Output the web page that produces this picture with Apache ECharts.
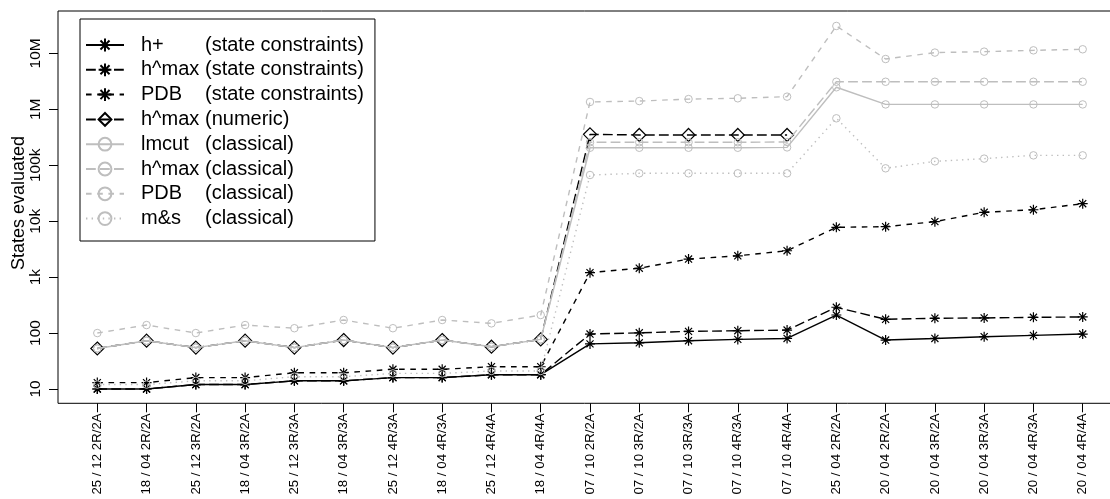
<!DOCTYPE html>
<html><head><meta charset="utf-8">
<script src="https://cdn.jsdelivr.net/npm/echarts@6/dist/echarts.min.js"></script>
<style>html,body{margin:0;padding:0;background:#fff}#c{width:1110px;height:499px}</style>
</head><body><div id="c"></div>
<script>
const categories = [
  "25 / 12 2R/2A","18 / 04 2R/2A","25 / 12 3R/2A","18 / 04 3R/2A","25 / 12 3R/3A",
  "18 / 04 3R/3A","25 / 12 4R/3A","18 / 04 4R/3A","25 / 12 4R/4A","18 / 04 4R/4A",
  "07 / 10 2R/2A","07 / 10 3R/2A","07 / 10 3R/3A","07 / 10 4R/3A","07 / 10 4R/4A",
  "25 / 04 2R/2A","20 / 04 2R/2A","20 / 04 3R/2A","20 / 04 3R/3A","20 / 04 4R/3A","20 / 04 4R/4A"
];
const yTickValues = [10, 100, 1000, 10000, 100000, 1000000, 10000000];
const yTickLabels = ["10", "100", "1k", "10k", "100k", "1M", "10M"];
const yAxisTitle = "States evaluated";

const hPlusState   = [10, 10, 12, 12, 14, 14, 16, 16, 18, 18, 64, 67, 73, 77, 80, 210, 75, 80, 86, 91, 96];
const hmaxState    = [10, 10, 12, 12, 14, 14, 16, 16, 18, 18, 96, 101, 107, 110, 113, 289, 176, 184, 186, 191, 194];
const pdbState     = [13, 13, 16, 16, 19.5, 19.5, 22.5, 22.5, 25, 25, 1200, 1440, 2100, 2400, 2960, 7760, 7960, 9800, 14400, 16000, 20500];
const hmaxNumeric  = [53, 73, 55, 73, 55, 75, 55, 75, 57, 77, 356000, 347000, 347000, 347000, 347000, null, null, null, null, null, null];
const lmcutClass   = [53, 73, 55, 73, 55, 75, 55, 75, 57, 77, 205000, 205000, 205000, 205000, 208000, 2470000, 1220000, 1220000, 1220000, 1220000, 1220000];
const hmaxClass    = [53, 73, 55, 73, 55, 75, 55, 75, 57, 77, 257000, 257000, 257000, 257000, 260000, 3100000, 3100000, 3100000, 3100000, 3100000, 3100000];
const pdbClass     = [100, 139, 100, 139, 122, 171, 122, 171, 149, 210, 1350000, 1400000, 1520000, 1570000, 1680000, 30800000, 7900000, 10300000, 10700000, 11300000, 11800000];
const msClass      = [12, 12, 14, 14, 16.6, 16.6, 19, 19, 21, 21, 66800, 71600, 71600, 71600, 71600, 689000, 88000, 117000, 131000, 150000, 150000];

const seriesNames = [
  ["h+", "(state constraints)"],
  ["h^max", "(state constraints)"],
  ["PDB", "(state constraints)"],
  ["h^max", "(numeric)"],
  ["lmcut", "(classical)"],
  ["h^max", "(classical)"],
  ["PDB", "(classical)"],
  ["m&s", "(classical)"]
];

const FONT = '"Liberation Sans", Arial, Helvetica, sans-serif';
const BLACK = '#000000';
const GRAY = '#bebebe';
const STAR = 'path://M0,-5L0,5M-5,0L5,0M-3.54,-3.54L3.54,3.54M-3.54,3.54L3.54,-3.54';
const LONG = [9.8, 4.2], DASH = [5.6, 5.6], DOT = [1.4, 4.2];

function fullName(i) { return seriesNames[i][0] + ' ' + seriesNames[i][1]; }

function mk(i, data, color, lineType, symbol, size, bw) {
  return {
    name: fullName(i), type: 'line', xAxisIndex: 1, yAxisIndex: 1, data: data,
    clip: false, symbol: symbol, symbolSize: size, symbolKeepAspect: true,
    showAllSymbol: true, connectNulls: false, z: 2 + i * 0.01,
    lineStyle: { color: color, width: 1.4, type: lineType, cap: 'butt' },
    itemStyle: { color: 'rgba(0,0,0,0)', borderColor: color, borderWidth: bw },
    emphasis: { disabled: true },
    animation: false
  };
}

const chart = echarts.init(document.getElementById('c'), null, { renderer: 'canvas' });
chart.setOption({
  backgroundColor: '#ffffff',
  animation: false,
  grid: [
    { left: 58, top: 11, width: 1064, height: 392.3, show: true, borderColor: '#000', borderWidth: 1, backgroundColor: 'transparent', containLabel: false, outerBoundsMode: 'none' },
    { left: 97.3, right: 27.3, top: 53.3, bottom: 110, containLabel: false, outerBoundsMode: 'none' }
  ],
  xAxis: [
    { gridIndex: 0, type: 'value', show: false, min: 0, max: 1 },
    {
      gridIndex: 1, type: 'category', data: categories, boundaryGap: false, offset: 14.3,
      axisLine: { show: false },
      axisTick: { show: true, length: 9, interval: 0, lineStyle: { color: '#000', width: 1 } },
      axisLabel: { interval: 0, rotate: 90, margin: 10, fontSize: 13.3, fontFamily: FONT, color: '#000' },
      splitLine: { show: false }
    }
  ],
  yAxis: [
    { gridIndex: 0, type: 'value', show: false, min: 0, max: 1 },
    {
      gridIndex: 1, type: 'log', logBase: 10, min: 10, max: 10000000, offset: 39.3,
      axisLine: { show: false },
      axisTick: { show: true, length: 9, lineStyle: { color: '#000', width: 1 } },
      axisLabel: {
        rotate: 90, margin: 14, fontSize: 15.5, fontFamily: FONT, color: '#000',
        formatter: function (v) {
          for (let k = 0; k < yTickValues.length; k++) {
            if (Math.abs(Math.log10(v) - Math.log10(yTickValues[k])) < 1e-6) return yTickLabels[k];
          }
          return '';
        }
      },
      splitLine: { show: false }, minorTick: { show: false }
    }
  ],
  legend: {
    orient: 'vertical', left: 80, top: 19, padding: [16, 11, 12.4, 5],
    itemGap: 4.8, itemWidth: 38, itemHeight: 16,
    backgroundColor: '#fff', borderColor: '#000', borderWidth: 1, borderRadius: 0,
    selectedMode: false, z: 10,
    data: seriesNames.map((s, i) => fullName(i)),
    formatter: function (name) {
      const i = seriesNames.findIndex((s, k) => fullName(k) === name);
      return '{g| }{a|' + seriesNames[i][0] + '}{b|' + seriesNames[i][1] + '}';
    },
    textStyle: {
      fontFamily: FONT, fontSize: 20, color: '#000',
      rich: {
        g: { width: 12, fontSize: 20, lineHeight: 20, fontFamily: FONT },
        a: { width: 64, fontSize: 20, lineHeight: 20, fontFamily: FONT, color: '#000' },
        b: { fontSize: 20, lineHeight: 20, fontFamily: FONT, color: '#000' }
      }
    }
  },
  graphic: [{
    type: 'text', x: 19, y: 203, rotation: Math.PI / 2, z: 10,
    style: { text: yAxisTitle, font: '18px ' + FONT, fill: '#000', textAlign: 'center', textVerticalAlign: 'middle', verticalAlign: 'middle' }
  }],
  series: [
    mk(0, hPlusState, BLACK, 'solid', STAR, 10, 1.2),
    mk(1, hmaxState, BLACK, LONG, STAR, 10, 1.2),
    mk(2, pdbState, BLACK, DASH, STAR, 10, 1.2),
    mk(3, hmaxNumeric, BLACK, LONG, 'diamond', 13, 1.2),
    mk(4, lmcutClass, GRAY, 'solid', 'circle', 7.5, 1),
    mk(5, hmaxClass, GRAY, LONG, 'circle', 7.5, 1),
    mk(6, pdbClass, GRAY, DASH, 'circle', 7.5, 1),
    mk(7, msClass, GRAY, DOT, 'circle', 7.5, 1)
  ]
});
</script>
</body></html>
